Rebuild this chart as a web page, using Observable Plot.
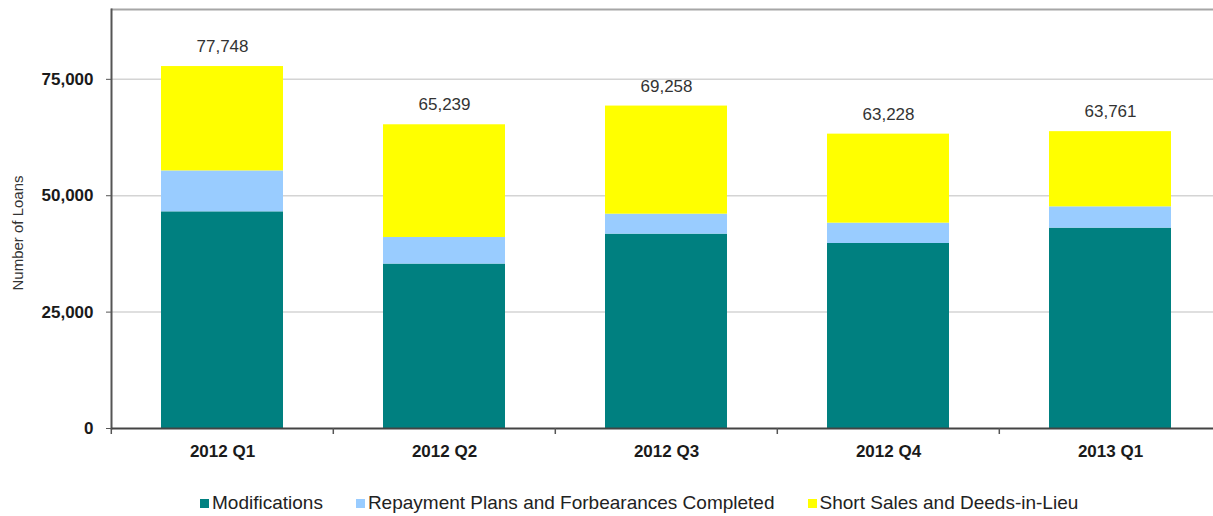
<!DOCTYPE html>
<html>
<head>
<meta charset="utf-8">
<script src="https://cdn.jsdelivr.net/npm/d3@7"></script>
<script src="https://cdn.jsdelivr.net/npm/@observablehq/plot@0.6"></script>
<style>
  html, body { margin: 0; padding: 0; background: #fff; overflow: hidden; }
  body { font-family: "Liberation Sans", Arial, sans-serif; }
  #legend { display: flex; align-items: center; margin-top: 17px; padding-left: 200px; font-size: 19px; color: #222; }
  .item { display: flex; align-items: center; margin-right: 33px; }
  .sw { width: 9px; height: 9px; margin-right: 3px; }
</style>
</head>
<body>
<div id="chart"></div>
<div id="legend"></div>
<script>
const quarters = ["2012 Q1", "2012 Q2", "2012 Q3", "2012 Q4", "2013 Q1"];
const seriesNames = ["Modifications", "Repayment Plans and Forbearances Completed", "Short Sales and Deeds-in-Lieu"];
const seriesColors = ["#008080", "#99ccff", "#ffff00"];
const modifications = [46540, 35320, 41750, 39740, 43040];
const repayment = [8790, 5710, 4290, 4370, 4570];
const shortSales = [22418, 24209, 23218, 19118, 16151];
const totals = [77748, 65239, 69258, 63228, 63761];
const yTicks = [0, 25000, 50000, 75000];

const seriesValues = [modifications, repayment, shortSales];
const rows = [];
seriesNames.forEach((s, si) => quarters.forEach((q, qi) => rows.push({quarter: q, series: s, value: seriesValues[si][qi]})));
const totalRows = quarters.map((q, i) => ({quarter: q, total: totals[i]}));

const W = 1213, H = 475;
const xRange = [110, 1222];
const step = (xRange[1] - xRange[0]) / quarters.length;
const fmt = d3.format(",");

const chart = Plot.plot({
  width: W,
  height: H,
  marginLeft: 111,
  marginRight: 0,
  marginTop: 9,
  marginBottom: 47,
  style: {fontFamily: '"Liberation Sans", Arial, sans-serif', color: "#1a1a1a", background: "#fff"},
  x: {type: "band", domain: quarters, range: xRange, padding: 0},
  y: {domain: [0, 90000]},
  color: {domain: seriesNames, range: seriesColors},
  marks: [
    Plot.gridY(yTicks.slice(1), {stroke: "#d4d4d4", strokeOpacity: 1, strokeWidth: 1.5}),
    Plot.ruleY([90000], {stroke: "#a6a6a6", strokeWidth: 2}),
    Plot.barY(rows, {x: "quarter", y: "value", fill: "series", order: seriesNames, insetLeft: 50, insetRight: 50}),
    Plot.text(totalRows, {x: "quarter", y: "total", text: d => fmt(d.total), dy: -20, fontSize: 17, fill: "#333"}),
    Plot.frame({anchor: "left", stroke: "#555", strokeWidth: 2}),
    Plot.ruleY([0], {stroke: "#444", strokeWidth: 2}),
    Plot.ruleX(quarters, {x: d => d, y1: 0, y2: 0, insetBottom: -6, dx: -step / 2, stroke: "#555", strokeWidth: 1.5}),
    Plot.axisY({ticks: yTicks, tickFormat: fmt, tickSize: 5, tickPadding: 13, fontSize: 17, fontWeight: "bold", label: null, stroke: "#555"}),
    Plot.axisX({tickSize: 0, tickPadding: 16, fontSize: 17, fontWeight: "bold", label: null}),
    Plot.text(["Number of Loans"], {frameAnchor: "left", textAnchor: "middle", rotate: -90, dx: -93, dy: 14, fontSize: 15, fill: "#333"})
  ]
});
document.getElementById("chart").appendChild(chart);

const legend = document.getElementById("legend");
seriesNames.forEach((s, i) => {
  const it = document.createElement("div");
  it.className = "item";
  const sw = document.createElement("span");
  sw.className = "sw";
  sw.style.background = seriesColors[i];
  const tx = document.createElement("span");
  tx.textContent = s;
  it.appendChild(sw);
  it.appendChild(tx);
  legend.appendChild(it);
});
</script>
</body>
</html>
